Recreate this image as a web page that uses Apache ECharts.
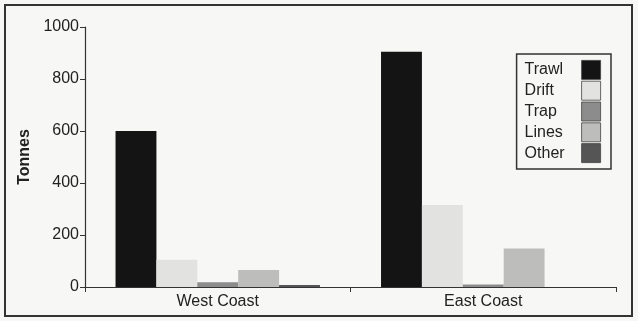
<!DOCTYPE html>
<html>
<head>
<meta charset="utf-8">
<script src="https://cdn.jsdelivr.net/npm/echarts@6/dist/echarts.min.js"></script>
<style>
  html, body { margin: 0; padding: 0; background: #f7f7f5; }
  #chart { width: 638px; height: 321px; }
</style>
</head>
<body>
<div id="chart"></div>
<script>
// Catch by gear type, in tonnes
const regions = ['West Coast', 'East Coast'];
const gears = ['Trawl', 'Drift', 'Trap', 'Lines', 'Other'];
const trawl = [600, 905];
const drift = [105, 315];
const trap = [18, 10];
const lines = [65, 148];
const other = [8, 0];
const yTicks = [0, 200, 400, 600, 800, 1000];

const gearValues = [trawl, drift, trap, lines, other];
const gearColors = ['#141414', '#e2e2e0', '#8c8c8c', '#bdbdbb', '#555555'];

const chart = echarts.init(document.getElementById('chart'));
const font = 'Liberation Sans, Arial, sans-serif';

chart.setOption({
  backgroundColor: '#f7f7f5',
  animation: false,
  graphic: [{
    type: 'rect',
    shape: { x: 5, y: 5, width: 627, height: 311 },
    style: { fill: 'none', stroke: '#333', lineWidth: 2 },
    silent: true
  }],
  grid: { left: 85, right: 22, top: 27, bottom: 34 },
  legend: {
    orient: 'vertical',
    right: 27,
    top: 54,
    align: 'right',
    icon: 'rect',
    itemWidth: 19,
    itemHeight: 19,
    itemGap: 1,
    padding: [6, 10, 6, 8],
    borderColor: '#333',
    borderWidth: 1.5,
    backgroundColor: '#f7f7f5',
    formatter: name => '{t|' + name + '}',
    textStyle: {
      fontFamily: font, fontSize: 16, color: '#222',
      rich: { t: { fontFamily: font, fontSize: 16, color: '#222', width: 52, align: 'left' } }
    },
    data: gears.map(g => ({ name: g, itemStyle: { borderColor: '#444', borderWidth: 0.8 } }))
  },
  xAxis: {
    type: 'category',
    data: regions,
    axisLine: { lineStyle: { color: '#333', width: 1.2 } },
    axisTick: { show: true, length: 5, inside: false, lineStyle: { color: '#333' } },
    axisLabel: { fontFamily: font, fontSize: 16, color: '#222', margin: 7 }
  },
  yAxis: {
    type: 'value',
    min: yTicks[0],
    max: yTicks[yTicks.length - 1],
    interval: yTicks[1] - yTicks[0],
    name: 'Tonnes',
    nameLocation: 'middle',
    nameGap: 46,
    nameTextStyle: { fontFamily: font, fontSize: 16, fontWeight: 'bold', color: '#222' },
    axisLine: { show: true, lineStyle: { color: '#333', width: 1.2 } },
    axisTick: { show: true, length: 5, lineStyle: { color: '#333' } },
    splitLine: { show: false },
    axisLabel: { fontFamily: font, fontSize: 16, color: '#222', margin: 6, formatter: v => String(v) }
  },
  series: gears.map((g, i) => ({
    name: g,
    type: 'bar',
    data: gearValues[i],
    barGap: '0%',
    barCategoryGap: '23%',
    itemStyle: { color: gearColors[i] }
  }))
});
</script>
</body>
</html>
